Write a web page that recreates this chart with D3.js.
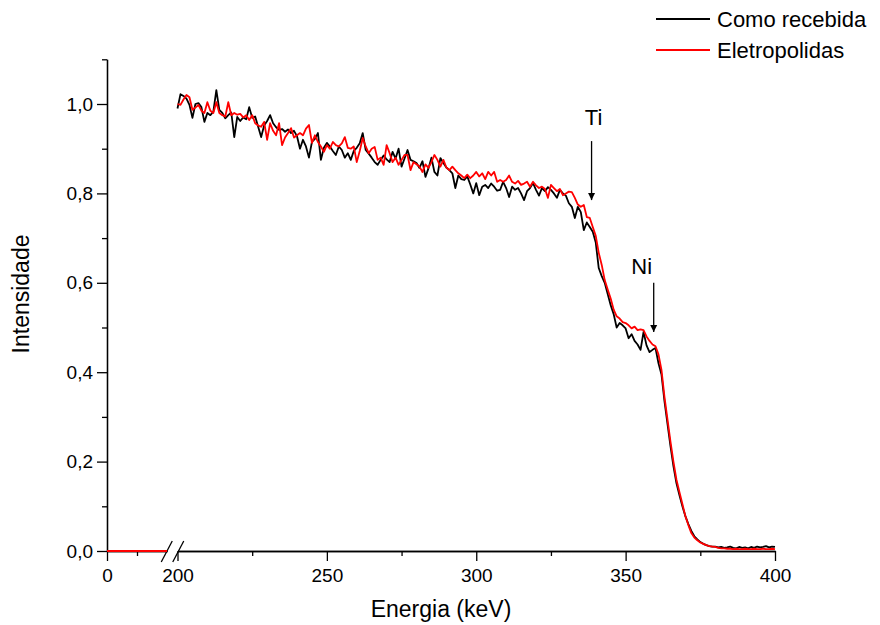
<!DOCTYPE html>
<html>
<head>
<meta charset="utf-8">
<script src="https://cdn.jsdelivr.net/npm/d3@7"></script>
<style>
  body { margin: 0; background: #fff; }
  svg { font-family: "Liberation Sans", Arial, sans-serif; }
</style>
</head>
<body>
<script>
// energies (keV), one channel per keV from 200 to 400
var energy = d3.range(200, 401);

// low-energy part before the axis break (flat zero)
var lowEnergy = [0, 20, 40, 60, 80, 100];
var lowRecebida = [0, 0, 0, 0, 0, 0];
var lowPolidas = [0, 0, 0, 0, 0, 0];

// "Como recebida" (black), 200..400 keV
var recebida = [
  0.990, 1.022, 1.018, 1.012, 0.998, 0.969, 1.000, 1.002, 0.993, 0.960,
  0.980, 0.975, 0.983, 1.031, 0.987, 0.980, 0.968, 0.975, 0.981, 0.926,
  0.971, 0.962, 0.970, 0.966, 0.993, 0.969, 0.972, 0.949, 0.926, 0.952,
  0.962, 0.975, 0.957, 0.948, 0.942, 0.944, 0.938, 0.943, 0.935, 0.940,
  0.928, 0.900, 0.920, 0.905, 0.880, 0.915, 0.922, 0.935, 0.875, 0.902,
  0.913, 0.905, 0.895, 0.886, 0.905, 0.897, 0.880, 0.890, 0.875, 0.895,
  0.902, 0.912, 0.935, 0.897, 0.889, 0.880, 0.870, 0.864, 0.875, 0.885,
  0.876, 0.870, 0.893, 0.878, 0.900, 0.860, 0.878, 0.897, 0.875, 0.872,
  0.868, 0.857, 0.872, 0.837, 0.856, 0.880, 0.848, 0.840, 0.879, 0.868,
  0.858, 0.852, 0.845, 0.812, 0.840, 0.832, 0.830, 0.838, 0.820, 0.800,
  0.823, 0.796, 0.815, 0.819, 0.812, 0.822, 0.815, 0.806, 0.808, 0.826,
  0.812, 0.792, 0.815, 0.808, 0.812, 0.800, 0.785, 0.805, 0.812, 0.823,
  0.808, 0.795, 0.812, 0.805, 0.814, 0.808, 0.800, 0.790, 0.808, 0.800,
  0.795, 0.778, 0.770, 0.745, 0.770, 0.758, 0.718, 0.735, 0.725, 0.714,
  0.690, 0.633, 0.615, 0.600, 0.575, 0.550, 0.530, 0.500, 0.510, 0.505,
  0.498, 0.476, 0.485, 0.470, 0.462, 0.450, 0.490, 0.460, 0.445, 0.450,
  0.454, 0.420, 0.395, 0.335, 0.285, 0.235, 0.190, 0.152, 0.125, 0.100,
  0.078, 0.060, 0.045, 0.033, 0.026, 0.020, 0.016, 0.013, 0.011, 0.010,
  0.010, 0.008, 0.009, 0.007, 0.008, 0.010, 0.007, 0.006, 0.009, 0.007,
  0.008, 0.006, 0.009, 0.007, 0.010, 0.008, 0.009, 0.011, 0.008, 0.010,
  0.009
];

// "Eletropolidas" (red), 200..400 keV
var polidas = [
  1.000, 0.998, 1.010, 1.020, 1.015, 0.987, 0.992, 0.998, 0.985, 0.980,
  1.004, 0.985, 0.980, 1.004, 0.980, 0.975, 0.972, 1.004, 0.975, 0.980,
  0.976, 0.978, 0.970, 0.975, 0.964, 0.975, 0.957, 0.952, 0.949, 0.960,
  0.920, 0.957, 0.940, 0.930, 0.957, 0.908, 0.925, 0.935, 0.946, 0.925,
  0.930, 0.935, 0.930, 0.945, 0.953, 0.913, 0.930, 0.915, 0.905, 0.893,
  0.908, 0.900, 0.915, 0.908, 0.905, 0.912, 0.926, 0.902, 0.900, 0.905,
  0.870, 0.895, 0.924, 0.905, 0.890, 0.900, 0.904, 0.875, 0.880, 0.864,
  0.908, 0.890, 0.870, 0.880, 0.864, 0.875, 0.886, 0.886, 0.852, 0.870,
  0.865, 0.860, 0.848, 0.865, 0.857, 0.870, 0.886, 0.875, 0.860, 0.875,
  0.858, 0.852, 0.860, 0.852, 0.845, 0.840, 0.834, 0.842, 0.834, 0.840,
  0.848, 0.838, 0.845, 0.832, 0.848, 0.840, 0.848, 0.826, 0.830, 0.826,
  0.830, 0.840, 0.826, 0.822, 0.828, 0.819, 0.822, 0.826, 0.815, 0.826,
  0.818, 0.812, 0.815, 0.810, 0.790, 0.819, 0.812, 0.805, 0.810, 0.796,
  0.800, 0.804, 0.803, 0.790, 0.775, 0.770, 0.774, 0.747, 0.745, 0.725,
  0.705, 0.667, 0.640, 0.606, 0.585, 0.565, 0.540, 0.525, 0.520, 0.512,
  0.510, 0.505, 0.498, 0.502, 0.494, 0.496, 0.494, 0.480, 0.470, 0.462,
  0.458, 0.440, 0.405, 0.345, 0.295, 0.245, 0.200, 0.160, 0.132, 0.105,
  0.078, 0.058, 0.040, 0.030, 0.024, 0.019, 0.016, 0.013, 0.011, 0.010,
  0.009, 0.007, 0.006, 0.006, 0.005, 0.005, 0.004, 0.005, 0.004, 0.004,
  0.005, 0.004, 0.004, 0.005, 0.004, 0.004, 0.005, 0.004, 0.004, 0.005,
  0.004
];

var seriesNames = ["Como recebida", "Eletropolidas"];
var seriesColors = ["#000000", "#ff0000"];

var yMajor = [0, 0.2, 0.4, 0.6, 0.8, 1.0];
var yMinor = [0.1, 0.3, 0.5, 0.7, 0.9, 1.1];
var xMajorHigh = [200, 250, 300, 350, 400];
var xMinorHigh = [225, 275, 325, 375];
var xMajorLow = [0];
var xMinorLow = [50];

// arrow annotations: energy, text level, arrow tail and tip levels
var peaks = [
  { label: "Ti", energy: 338.6, text: 0.97, tail: 0.917, tip: 0.785 },
  { label: "Ni", energy: 359.4, text: 0.637, tail: 0.600, tip: 0.490 }
];

var width = 880, height = 625;
var svg = d3.select("body").append("svg")
    .attr("width", width).attr("height", height);

var y = d3.scaleLinear().domain([0, 1.1]).range([551, 59.3]);
var xLow = d3.scaleLinear().domain([0, 100]).range([107, 167]);
var xHigh = d3.scaleLinear().domain([200, 400]).range([177.5, 775]);

var fmt = function (d) { return d3.format(".1f")(d).replace(".", ","); };

// y axis
svg.append("g").attr("transform", "translate(107,0)")
    .call(d3.axisLeft(y).tickValues(yMinor).tickSize(5).tickSizeOuter(0).tickFormat(""));
svg.append("g").attr("class", "yaxis").attr("transform", "translate(107,0)")
    .call(d3.axisLeft(y).tickValues(yMajor).tickSize(10).tickSizeOuter(0).tickPadding(4).tickFormat(fmt));

// x axis, two segments with a break
function xAxis(scale, major, minor) {
  svg.append("g").attr("transform", "translate(0,551)")
      .call(d3.axisBottom(scale).tickValues(minor).tickSize(5).tickSizeOuter(0).tickFormat(""));
  svg.append("g").attr("class", "xaxis").attr("transform", "translate(0,551)")
      .call(d3.axisBottom(scale).tickValues(major).tickSize(10).tickSizeOuter(0).tickPadding(8).tickFormat(d3.format("d")));
}
xAxis(xLow, xMajorLow, xMinorLow);
xAxis(xHigh, xMajorHigh, xMinorHigh);

svg.selectAll(".domain, .tick line").attr("stroke", "#000").attr("stroke-width", 1.3);
svg.selectAll(".tick text").attr("font-size", 19).attr("fill", "#000");

// break marks
var bx = (xLow.range()[1] + xHigh.range()[0]) / 2;
[-5.5, 6].forEach(function (off) {
  svg.append("line")
      .attr("x1", bx + off - 5.5).attr("y1", 562)
      .attr("x2", bx + off + 5.5).attr("y2", 541)
      .attr("stroke", "#000").attr("stroke-width", 1.3);
});

// data lines
var lineHigh = d3.line().x(function (d) { return xHigh(d[0]); }).y(function (d) { return y(d[1]); });
var lineLow = d3.line().x(function (d) { return xLow(d[0]); }).y(function (d) { return y(d[1]); });

[[recebida, lowRecebida], [polidas, lowPolidas]].forEach(function (s, i) {
  svg.append("path")
      .datum(lowEnergy.map(function (e, j) { return [e, s[1][j]]; }))
      .attr("d", lineLow).attr("fill", "none")
      .attr("stroke", seriesColors[i]).attr("stroke-width", 2);
  svg.append("path")
      .datum(energy.map(function (e, j) { return [e, s[0][j]]; }))
      .attr("d", lineHigh).attr("fill", "none")
      .attr("stroke", seriesColors[i]).attr("stroke-width", 1.8)
      .attr("stroke-linejoin", "round");
});

// arrows
svg.append("defs").append("marker")
    .attr("id", "head").attr("viewBox", "0 0 10 10")
    .attr("refX", 10).attr("refY", 5)
    .attr("markerWidth", 7).attr("markerHeight", 9)
    .attr("markerUnits", "userSpaceOnUse")
    .attr("orient", "auto")
  .append("path").attr("d", "M0,0L10,5L0,10Z").attr("fill", "#000");

peaks.forEach(function (p) {
  svg.append("line")
      .attr("x1", xHigh(p.energy)).attr("y1", y(p.tail))
      .attr("x2", xHigh(p.energy)).attr("y2", y(p.tip))
      .attr("stroke", "#000").attr("stroke-width", 1.3)
      .attr("marker-end", "url(#head)");
  svg.append("text")
      .attr("x", xHigh(p.energy) + (p.label === "Ni" ? -12 : 2))
      .attr("y", y(p.text)).attr("dy", "0.35em")
      .attr("text-anchor", "middle").attr("font-size", 22)
      .text(p.label);
});

// axis titles
svg.append("text")
    .attr("x", (xLow.range()[0] + xHigh.range()[1]) / 2).attr("y", 617)
    .attr("text-anchor", "middle").attr("font-size", 23)
    .text("Energia (keV)");
svg.append("text")
    .attr("transform", "translate(29," + y(0.575) + ") rotate(-90)")
    .attr("text-anchor", "middle").attr("font-size", 23)
    .text("Intensidade");

// legend
var legend = svg.append("g").attr("transform", "translate(656,19)");
seriesNames.forEach(function (name, i) {
  var g = legend.append("g").attr("transform", "translate(0," + i * 31 + ")");
  g.append("line").attr("x1", 0).attr("x2", 54).attr("y1", 0).attr("y2", 0)
      .attr("stroke", seriesColors[i]).attr("stroke-width", 2);
  g.append("text").attr("x", 61).attr("dy", "0.35em")
      .attr("font-size", 22).text(name);
});
</script>
</body>
</html>
